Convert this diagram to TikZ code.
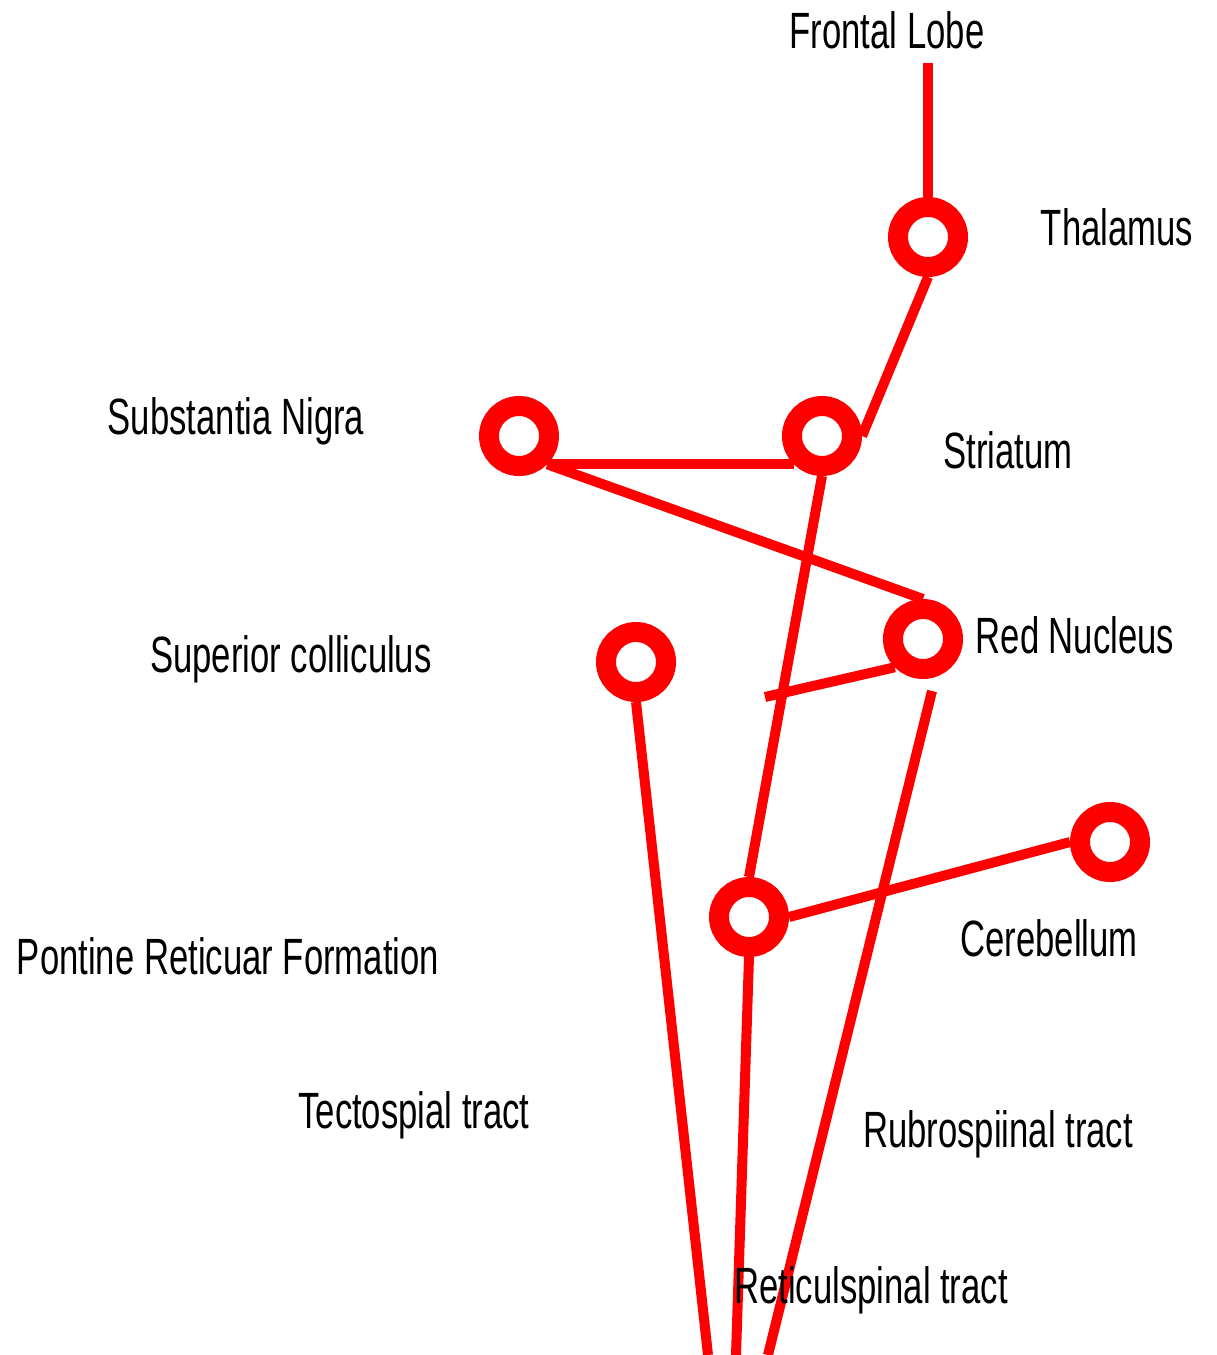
\documentclass[tikz,border=0pt]{standalone}
\usepackage{fontspec}
\setmainfont{Liberation Sans}[FakeStretch=0.68]
\begin{document}
\begin{tikzpicture}[x=1pt,y=-1pt,
  ring/.style={circle,draw=red,line width=20pt,minimum size=60pt,inner sep=0pt},
  conn/.style={draw=red,line width=10pt},
  lbl/.style={font=\fontsize{51}{56}\selectfont,anchor=base,inner sep=0pt,text=black}]
\useasboundingbox (0,0) rectangle (1217,1355);
% rings
\node[ring] (thal) at (928,237) {};
\node[ring] (sn) at (519,436) {};
\node[ring] (str) at (822,436) {};
\node[ring] (rn) at (923,639) {};
\node[ring] (sc) at (636,662) {};
\node[ring] (pon) at (749,917) {};
\node[ring] (cer) at (1110,842) {};
% free ends
\coordinate (fl) at (928,63);
\coordinate (rnx) at (765,697);
\coordinate (rnb) at (932,691);
\coordinate (scend) at (708,1355);
\coordinate (ponend) at (736,1355);
\coordinate (rnend) at (768,1355);
% connectors
\draw[conn] (fl) -- (thal.north);
\draw[conn] (thal.south) -- (str.east);
\draw[conn] (sn.-45) -- (str.-135);
\draw[conn] (sn.-45) -- (rn.north);
\draw[conn] (rn.-135) -- (rnx);
\draw[conn] (str.south) -- (pon.north);
\draw[conn] (sc.south) -- (scend);
\draw[conn] (rnb) -- (rnend);
\draw[conn] (pon.south) -- (ponend);
\draw[conn] (pon.east) -- (cer.west);
% labels
\node[lbl] (lfl) at (887,48) {Frontal Lobe};
\node[lbl] (lthal) at (1117,245) {Thalamus};
\node[lbl] (lsn) at (236,434) {Substantia Nigra};
\node[lbl] (lstr) at (1008,468) {Striatum};
\node[lbl] (lrn) at (1075,653) {Red Nucleus};
\node[lbl] (lsc) at (291,672) {Superior colliculus};
\node[lbl] (lcer) at (1049,956) {Cerebellum};
\node[lbl] (lpon) at (228,974) {Pontine Reticuar Formation};
\node[lbl] (ltec) at (414,1128) {Tectospial tract};
\node[lbl] (lrub) at (998,1147) {Rubrospiinal tract};
\node[lbl] (lret) at (871,1303) {Reticulspinal tract};
\end{tikzpicture}
\end{document}
